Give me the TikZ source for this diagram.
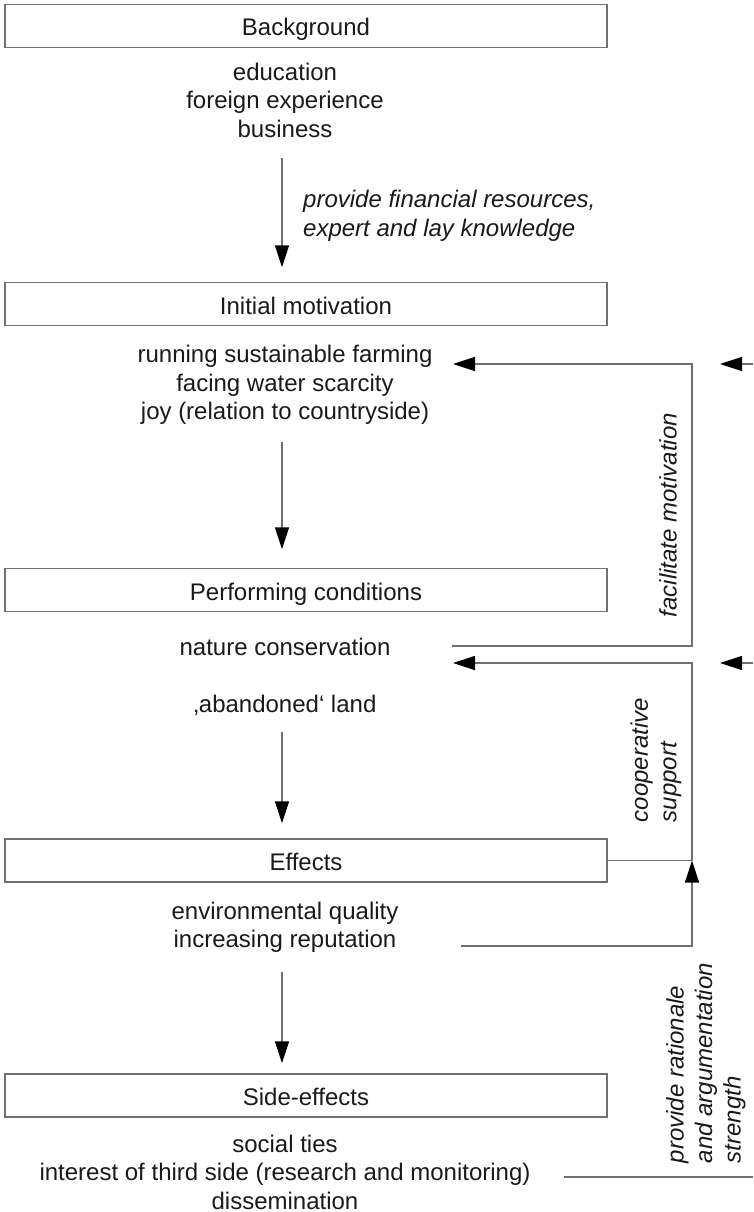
\documentclass[tikz,border=0pt]{standalone}
\usepackage{fontspec}
\setmainfont{Liberation Sans}
\usetikzlibrary{arrows.meta}
\definecolor{lgray}{RGB}{112,112,112}
\definecolor{txc}{RGB}{26,26,26}
\newcommand\fsz{\fontsize{24}{28.5}\selectfont}
\begin{document}
\begin{tikzpicture}[x=1pt,y=-1pt,
  every node/.style={font=\fsz, text=txc, inner sep=0pt},
  boxnode/.style={draw=lgray, line width=1.4pt, minimum width=602pt, minimum height=43pt, text height=24pt, text depth=4pt},
  listnode/.style={align=center},
  lbl/.style={font=\fsz\itshape},
  rlbl/.style={font=\fsz\itshape, rotate=90, align=left},
  conn/.style={draw=lgray, line width=1.4pt},
  arr/.style={conn, -{Triangle[length=22pt,width=14pt,color=black]}},
]
\fill[white] (0,0) rectangle (753,1212);
\useasboundingbox (0,0) rectangle (753,1212);

% boxes
\node[boxnode] (bgbox)  at (306,26)    {Background};
\node[boxnode] (motbox) at (306,304)   {Initial motivation};
\node[boxnode] (perbox) at (306,590)   {Performing conditions};
\node[boxnode] (effbox) at (306,860.5) {Effects};
\node[boxnode] (sidebox) at (306,1095.5) {Side-effects};

% lists
\node[listnode] (bglist)  at (285,100)  {education\\foreign experience\\business};
\node[listnode] (motlist) at (285,385)  {running sustainable farming\\facing water scarcity\\joy (relation to countryside)};
\node (natcons) at (285,647) {nature conservation};
\node (aband)   at (285,705) {‚abandoned‘ land};
\node[listnode] (efflist) at (285,927.5) {environmental quality\\increasing reputation};
\node[listnode] (sidelist) at (285,1172) {social ties\\interest of third side (research and monitoring)\\dissemination};

% labels
\node[lbl, align=left, anchor=west] (provlbl) at (303,216) {provide financial resources,\\expert and lay knowledge};
\node[rlbl] (faclbl) at (668,515) {facilitate motivation};
\node[rlbl] (cooplbl) at (656,760) {cooperative\\support};
\node[rlbl] (ratlbl) at (706,1063) {provide rationale\\and argumentation\\strength};

% helper coordinates
\coordinate (ax) at (282,0);
\coordinate (vx) at (692,0);
\coordinate (t1) at (453,364);
\coordinate (s1) at (452,646);
\coordinate (t2) at (453,663);
\coordinate (s2) at (461,946);
\coordinate (r1) at (753,364);
\coordinate (r1t) at (720,364);
\coordinate (r2) at (753,663);
\coordinate (r2t) at (720,663);
\coordinate (s3) at (564,1177);
\coordinate (e3) at (753,1177);

% vertical arrows
\draw[arr, shorten <=20pt, shorten >=14.5pt] (bglist.south -| ax) -- (motbox.north -| ax);
\draw[arr, shorten <=17.5pt, shorten >=18.5pt] (motlist.south -| ax) -- (perbox.north -| ax);
\draw[arr, shorten <=17pt, shorten >=15pt] (aband.south -| ax) -- (effbox.north -| ax);
\draw[arr, shorten <=19pt, shorten >=10pt] (efflist.south -| ax) -- (sidebox.north -| ax);

% feedback loops
\draw[arr] (s1) -| (vx |- t1) -- (t1);
\draw[arr] (effbox.east) -| (vx |- t2) -- (t2);
\draw[arr] (s2) -| (effbox.east -| vx);
\draw[arr] (r1) -- (r1t);
\draw[arr] (r2) -- (r2t);
\draw[conn] (s3) -- (e3);
\end{tikzpicture}
\end{document}
